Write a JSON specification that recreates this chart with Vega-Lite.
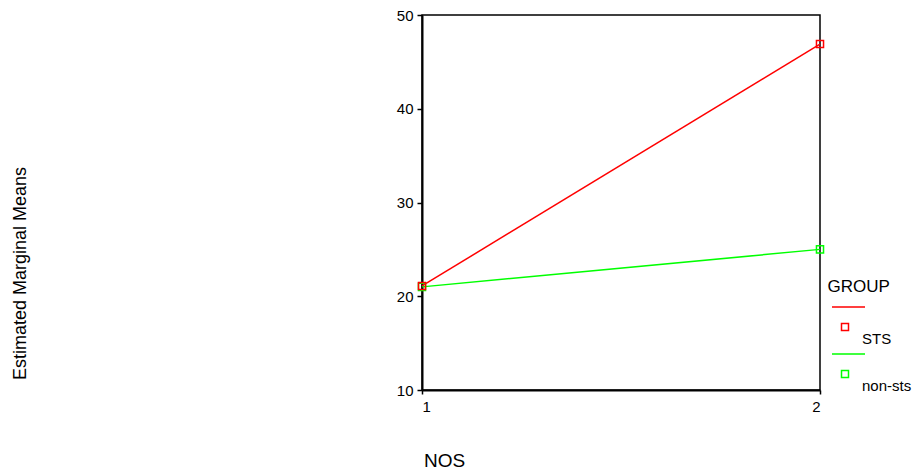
{
  "$schema": "https://vega.github.io/schema/vega-lite/v6.json",
  "autosize": {"type": "none"},
  "width": 398,
  "height": 375,
  "padding": {"left": 422, "top": 15, "right": 96, "bottom": 80},
  "background": "white",
  "config": {
    "font": "Liberation Sans",
    "view": {"stroke": "black", "strokeWidth": 1.5},
    "axis": {"grid": false, "domainColor": "black", "domainWidth": 2, "tickColor": "black", "labelColor": "black", "titleColor": "black", "labelFont": "Liberation Sans", "titleFont": "Liberation Sans", "titleFontWeight": "normal"}
  },
  "data": {
    "values": [
      {"NOS": 1, "mean": 21.0, "GROUP": "non-sts"},
      {"NOS": 2, "mean": 25.0, "GROUP": "non-sts"},
      {"NOS": 1, "mean": 21.1, "GROUP": "STS"},
      {"NOS": 2, "mean": 46.9, "GROUP": "STS"}
    ]
  },
  "encoding": {
    "x": {
      "field": "NOS", "type": "quantitative",
      "scale": {"domain": [1, 2], "nice": false, "zero": false},
      "axis": {"values": [1, 2], "format": "d", "title": "NOS", "titleFontSize": 19, "labelFontSize": 15, "tickSize": 4, "tickWidth": 1.5, "labelPadding": 5, "titleX": 22, "titleY": 70, "titleAlign": "center", "titleBaseline": "middle"}
    },
    "y": {
      "field": "mean", "type": "quantitative",
      "scale": {"domain": [10, 50], "nice": false, "zero": false},
      "axis": {"values": [10, 20, 30, 40, 50], "title": "Estimated Marginal Means", "titleFontSize": 18, "labelFontSize": 15, "tickSize": 5, "tickWidth": 1.5, "labelPadding": 4, "titleX": -402, "titleY": 258, "titleAngle": 270, "titleAlign": "center", "titleBaseline": "middle"}
    },
    "color": {
      "field": "GROUP", "type": "nominal",
      "scale": {"domain": ["STS", "non-sts"], "range": ["#ff0000", "#00ff00"]},
      "legend": {
        "title": "GROUP", "orient": "none", "legendX": 405.5, "legendY": 264, "padding": 0,
        "titleFontSize": 17, "titleFont": "Liberation Sans", "titleFontWeight": "normal", "titleColor": "black", "titlePadding": 22, "titleBaseline": "top",
        "labelFontSize": 15, "labelFont": "Liberation Sans", "labelColor": "black", "labelOffset": -7.5,
        "symbolType": "M-0.825,-1.6H0.825M-0.35,-0.775H0V-0.425H-0.35Z",
        "symbolSize": 1600, "symbolStrokeWidth": 1.5, "symbolFillColor": "transparent", "rowPadding": 4
      }
    }
  },
  "layer": [
    {"mark": {"type": "line", "strokeWidth": 1.5}},
    {"mark": {"type": "point", "shape": "square", "filled": false, "size": 50, "strokeWidth": 1.5, "opacity": 1}}
  ]
}
